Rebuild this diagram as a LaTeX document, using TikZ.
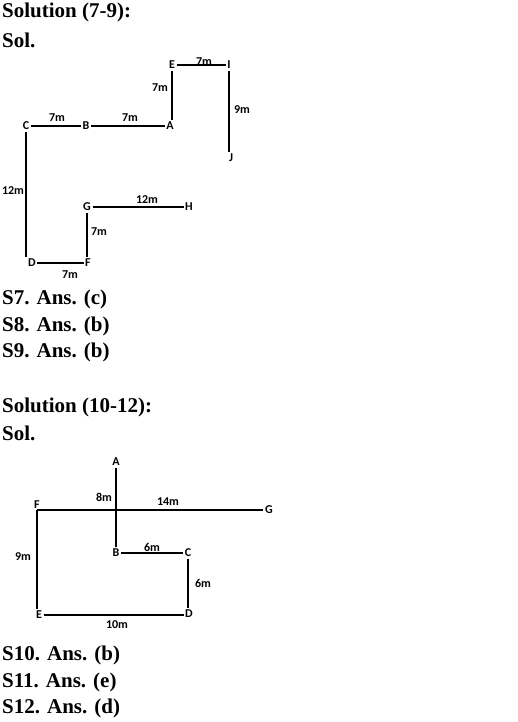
\documentclass[tikz,border=0pt]{standalone}
\usepackage{fontspec}
\setmainfont{Liberation Serif}
\newfontfamily\lblfont{Carlito}
\usetikzlibrary{calc, positioning}

\begin{document}
\begin{tikzpicture}[x=1pt, y=-1pt,
	txt/.style={anchor=west, inner sep=0pt, font=\fontsize{21}{24}\selectfont\bfseries},
	pt/.style={inner sep=1.5pt, font=\lblfont\fontsize{12}{13}\selectfont\bfseries},
	len/.style={inner sep=0pt, font=\lblfont\fontsize{12}{13}\selectfont\bfseries},
	seg/.style={line width=1.7pt}]
	\useasboundingbox (0,0) rectangle (518,722);
	% headings and answers
	\node[txt] (h1) at (2,12) {Solution (7-9):};
	\node[txt] (s1) at (2,40) {Sol.};
	\node[txt] (a7) at (2,299) {S7. Ans. (c)};
	\node[txt] (a8) at (2,326) {S8. Ans. (b)};
	\node[txt] (a9) at (2,352) {S9. Ans. (b)};
	\node[txt] (h2) at (2,407) {Solution (10-12):};
	\node[txt] (s2) at (2,433) {Sol.};
	\node[txt] (a10) at (2,655) {S10. Ans. (b)};
	\node[txt] (a11) at (2,682) {S11. Ans. (e)};
	\node[txt] (a12) at (2,708) {S12. Ans. (d)};
	\begin{scope}
		\node[pt] (C) at (26, 126) {C};
		\node[pt] (B) at (86, 126) {B};
		\node[pt] (A) at (170, 126) {A};
		\node[pt] (E) at (172, 65) {E};
		\node[pt] (I) at (229, 65) {I};
		\node[pt] (J) at (231, 158) {J};
		\node[pt] (D) at (32, 263) {D};
		\node[pt] (F) at (88, 263) {F};
		\node[pt] (G) at (87, 207) {G};
		\node[pt] (H) at (189, 207) {H};
		\draw[seg] (C) -- (B);
		\draw[seg] (B) -- (A);
		\draw[seg] (E.south) -- (E.south |- A.north);
		\draw[seg] (E) -- (I);
		\draw[seg] (I.south) -- (I.south |- J.north);
		\draw[seg] (C.south) -- (C.south |- D.north);
		\draw[seg] (D) -- (F);
		\draw[seg] (G.south) -- (G.south |- F.north);
		\draw[seg] (G) -- (H);
		\node[len] (cb) at (57,118) {7m};
		\node[len] (ba) at (130,118) {7m};
		\node[len] (ae) at (160,88) {7m};
		\node[len] (ei) at (204,62) {7m};
		\node[len] (ij) at (242,110) {9m};
		\node[len] (cd) at (13,191) {12m};
		\node[len] (gh) at (147,200) {12m};
		\node[len] (fg) at (99,232) {7m};
		\node[len] (df) at (70,275) {7m};
	\end{scope}
	\begin{scope}
		\node[pt] (A2) at (116, 462) {A};
		\node[pt, anchor=south] (F2) at (37, 510) {F};
		\node[pt] (G2) at (269, 510) {G};
		\node[pt] (E2) at (39, 615) {E};
		\node[pt] (D2) at (189, 614) {D};
		\node[pt] (C2) at (188, 553) {C};
		\node[pt] (B2) at (116, 553) {B};
		\draw[seg] (A2.south) -- (B2.north);
		\draw[seg] (F2.south) -- (G2);
		\draw[seg] (F2.south) -- (F2.south |- E2.north);
		\draw[seg] (E2) -- (E2 -| D2.west);
		\draw[seg] (B2) -- (C2);
		\draw[seg] (C2.south) -- (C2.south |- D2.north);
		\node[len] (ab) at (104,497) {8m};
		\node[len] (fg2) at (168,502) {14m};
		\node[len] (fe) at (23,557) {9m};
		\node[len] (bc) at (152,547) {6m};
		\node[len] (cd2) at (203,583) {6m};
		\node[len] (ed) at (117,625) {10m};
	\end{scope}
\end{tikzpicture}
\end{document}
